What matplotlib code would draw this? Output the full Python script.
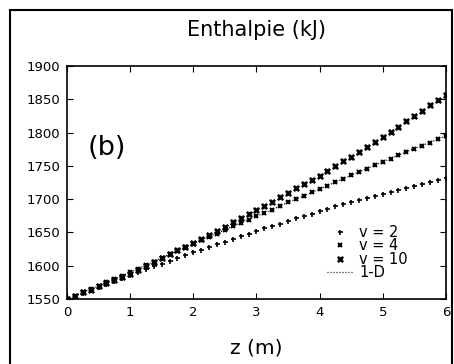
import matplotlib
matplotlib.use("Agg")
import matplotlib.pyplot as plt
from matplotlib.patches import Rectangle

z = [i * 0.125 for i in range(49)]

h_v2 = [1550, 1555, 1559, 1564, 1568, 1573, 1577, 1582,
        1586, 1590, 1595, 1599, 1603, 1607, 1612, 1616,
        1620, 1624, 1628, 1632, 1636, 1640, 1644, 1648,
        1652, 1656, 1660, 1663, 1667, 1671, 1675, 1678,
        1682, 1685, 1689, 1692, 1695, 1698, 1702, 1705,
        1708, 1711, 1714, 1717, 1720, 1723, 1726, 1729, 1732]

h_v4 = [1550, 1555, 1560, 1565, 1570, 1575, 1580, 1585,
        1590, 1595, 1601, 1606, 1612, 1617, 1622, 1628,
        1633, 1638, 1643, 1648, 1654, 1659, 1664, 1669,
        1674, 1679, 1684, 1689, 1695, 1700, 1705, 1710,
        1715, 1720, 1725, 1730, 1736, 1741, 1746, 1751,
        1756, 1761, 1766, 1771, 1776, 1780, 1785, 1790, 1795]

h_v10 = [1550, 1555, 1560, 1564, 1569, 1574, 1579, 1583,
         1588, 1594, 1600, 1605, 1611, 1617, 1623, 1628,
         1634, 1640, 1646, 1652, 1658, 1665, 1671, 1677,
         1683, 1690, 1696, 1703, 1709, 1716, 1722, 1729,
         1735, 1742, 1750, 1757, 1764, 1771, 1779, 1786,
         1793, 1801, 1809, 1817, 1825, 1833, 1841, 1849, 1857]

z_1d = [0, 0.5, 1, 1.5, 2, 2.5, 3, 3.5, 4, 4.5, 5, 5.5, 6]
h_1d = [1550, 1570, 1590, 1612, 1633, 1654, 1674, 1695, 1715, 1736, 1756, 1776, 1795]

xticks = [0, 1, 2, 3, 4, 5, 6]
yticks = [1550, 1600, 1650, 1700, 1750, 1800, 1850, 1900]

fig = plt.figure(figsize=(4.54, 3.64), dpi=100)
ax = fig.add_axes([0.1476, 0.1786, 0.8344, 0.6401])

ax.plot(z, h_v2, linestyle='none', marker='+', ms=3.6, mew=1.2, color='black', label='v = 2')
ax.plot(z, h_v4, linestyle='none', marker='x', ms=3.2, mew=1.5, color='black', label='v = 4')
ax.plot(z, h_v10, linestyle='none', marker='X', ms=4.8, mew=0.4, color='black', label='v = 10')
ax.plot(z_1d, h_1d, linestyle=(0, (0.8, 1.6)), lw=0.9, color='black', label='1-D')

ax.set_xlim(0, 6)
ax.set_ylim(1550, 1900)
ax.set_xticks(xticks)
ax.set_yticks(yticks)
ax.tick_params(direction='in', top=True, right=True, length=4, labelsize=9.5, pad=5)
for s in ax.spines.values():
    s.set_linewidth(1.2)

fig.text(0.566, 1 - 30 / 364, 'Enthalpie (kJ)', fontsize=15, ha='center', va='center')
ax.set_xlabel('z (m)', fontsize=14.5, labelpad=14)
ax.text(0.055, 0.648, '(b)', transform=ax.transAxes, fontsize=19.5, va='center')

leg = ax.legend(loc='lower right', bbox_to_anchor=(0.915, 0.055), frameon=False,
                fontsize=10.5, handlelength=1.8, handletextpad=0.4,
                labelspacing=-0.1, borderaxespad=0)

fig.add_artist(Rectangle((10 / 454, -0.02), 442 / 454, 1 - 10 / 364 + 0.02,
                         transform=fig.transFigure, fill=False, lw=1.5,
                         edgecolor='black'))

fig.savefig('out.png', dpi=100)
